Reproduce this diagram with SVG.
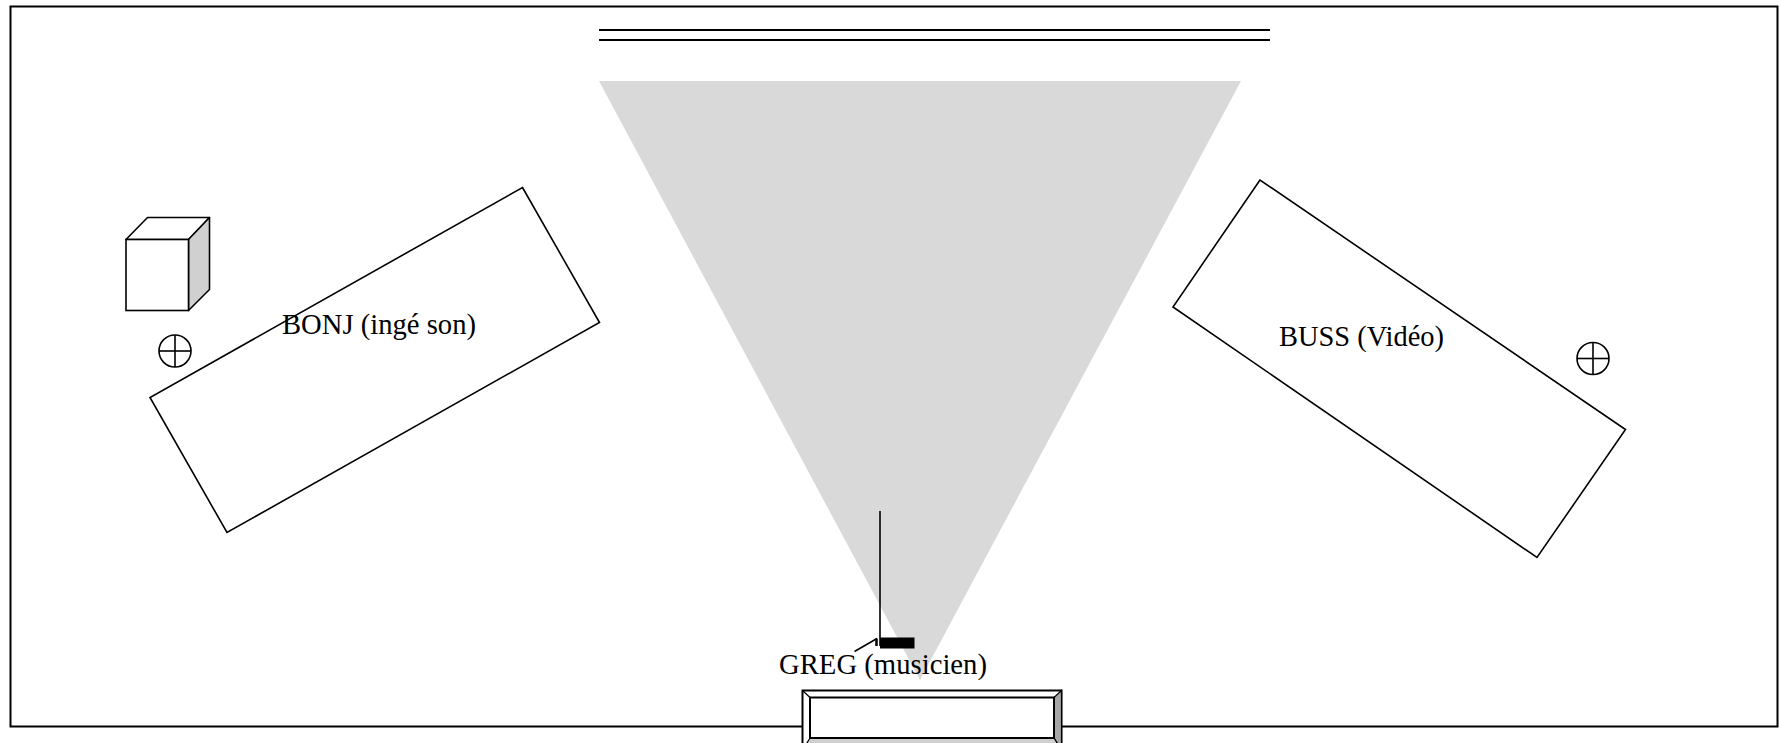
<svg xmlns="http://www.w3.org/2000/svg" width="1780" height="743" viewBox="0 0 1780 743">
<style>
.ln{fill:none;stroke:#000;stroke-width:1.6;stroke-linejoin:miter}
.lbl{font-family:"Liberation Serif","Times New Roman",serif;font-size:28.5px;fill:#000}
</style>
<defs>
<g id="cross"><circle cx="0" cy="0" r="16" fill="#fff" stroke="#000" stroke-width="1.6"/><line x1="-16" y1="0" x2="16" y2="0" stroke="#000" stroke-width="1.6"/><line x1="0" y1="-16" x2="0" y2="16" stroke="#000" stroke-width="1.6"/></g>
</defs>
<rect x="0" y="0" width="1780" height="743" fill="#fff"/>
<g id="room"><rect x="10.5" y="6.5" width="1767" height="720" fill="#fff" stroke="#000" stroke-width="2"/></g>
<g id="projection"><polygon points="599,81 1241,81 920,680" fill="#d9d9d9"/></g>
<g id="screen">
<line x1="599" y1="30" x2="1270" y2="30" stroke="#000" stroke-width="2"/>
<line x1="599" y1="40" x2="1270" y2="40" stroke="#000" stroke-width="2"/>
</g>
<g id="speaker">
<polygon points="126,239.5 147.5,217.5 209.5,217.5 188.5,239.5" fill="#fff" stroke="#000" stroke-width="1.6" stroke-linejoin="round"/>
<polygon points="188.5,239.5 209.5,217.5 209.5,289.5 188.5,310.5" fill="#d0d0d0" stroke="#000" stroke-width="1.6" stroke-linejoin="round"/>
<rect x="126" y="239.5" width="62.5" height="71" fill="#fff" stroke="#000" stroke-width="1.6"/>
</g>
<g id="cross-left"><use href="#cross" x="175" y="351"/></g>
<g id="cross-right"><use href="#cross" x="1593" y="358.5"/></g>
<g id="bonj">
<polygon class="ln" points="522.5,187.5 599.5,322.5 227,532.5 150,397.5"/>
<text class="lbl" x="282" y="334" textLength="194" lengthAdjust="spacingAndGlyphs">BONJ (ingé son)</text>
</g>
<g id="buss">
<polygon class="ln" points="1260,180 1173,307 1537,557.5 1625.5,429.5"/>
<text class="lbl" x="1279" y="345.5" textLength="165" lengthAdjust="spacingAndGlyphs">BUSS (Vidéo)</text>
</g>
<g id="greg">
<line x1="880" y1="511" x2="880" y2="646" stroke="#000" stroke-width="1.6"/>
<rect x="880" y="637.5" width="34.5" height="11" fill="#000"/>
<line x1="854.5" y1="651.5" x2="877" y2="638.5" stroke="#000" stroke-width="1.6"/>
<line x1="876.5" y1="638.5" x2="876.5" y2="646" stroke="#000" stroke-width="2.5"/>
<text class="lbl" x="779" y="673.5" textLength="208" lengthAdjust="spacingAndGlyphs">GREG (musicien)</text>
</g>
<g id="stage">
<rect x="802.5" y="690.5" width="259" height="60" fill="#fff" stroke="#000" stroke-width="2"/>
<polygon points="1061.5,690.5 1061.5,750 1054,738 1054,697.5" fill="#a6a6a6" stroke="#000" stroke-width="1.2"/>
<polygon points="802.5,750 1061.5,750 1054,738 810,738" fill="#cfcfcf" stroke="#000" stroke-width="1.2"/>
<line x1="802.5" y1="690.5" x2="810" y2="697.5" stroke="#000" stroke-width="1.2"/>
<rect x="810" y="697.5" width="244" height="40.5" fill="#fff" stroke="#000" stroke-width="2"/>
</g>
<g id="connectors"/>
</svg>
